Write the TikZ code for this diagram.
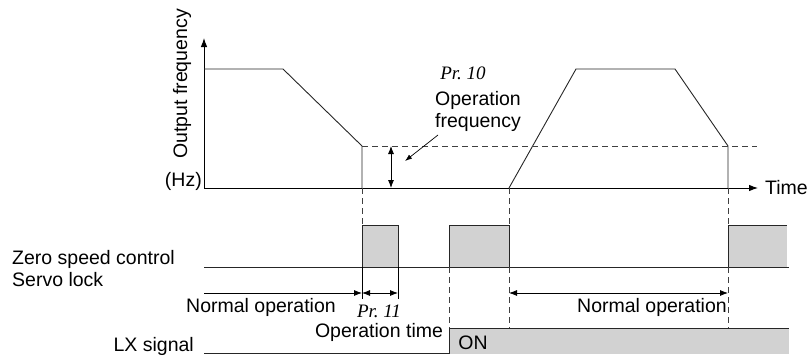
\documentclass[tikz,border=0pt]{standalone}
\usepackage{fontspec}
\setmainfont{Liberation Sans}
\newfontfamily\prfont{Liberation Serif}
\usetikzlibrary{arrows.meta}
\definecolor{pulsegray}{RGB}{210,210,210}
\tikzset{
  lbl/.style={inner sep=0pt, font=\fontsize{19.5}{22}\selectfont},
  prlbl/.style={inner sep=0pt, font=\fontsize{19}{22}\selectfont\prfont\itshape},
  wire/.style={line width=0.9pt, black!85},
  dsh/.style={line width=0.8pt, black!75, dash pattern=on 6pt off 4pt},
  axarrow/.style={line width=0.9pt, -{Latex[length=9pt,width=6.5pt]}},
  dimarrow/.style={line width=0.8pt, {Latex[length=8pt,width=6pt]}-{Latex[length=8pt,width=6pt]}},
  onearrow/.style={line width=0.8pt, -{Latex[length=8pt,width=6pt]}},
  ptr/.style={line width=0.7pt, -{Latex[length=7pt,width=5pt]}},
  pulse/.style={fill=pulsegray, draw=black!85, line width=0.9pt}
}
\begin{document}
\begin{tikzpicture}[x=1pt,y=-1pt]
\useasboundingbox (0,0) rectangle (808,356);
% key coordinates
\coordinate (org) at (204,188);
\coordinate (ytop) at (204,38);
\coordinate (xend) at (758,188);
\coordinate (f1a) at (204,69);
\coordinate (f1b) at (283,69);
\coordinate (f1c) at (362,146);
\coordinate (f1d) at (362,188);
\coordinate (f2a) at (509,188);
\coordinate (f2b) at (576,69);
\coordinate (f2c) at (675,69);
\coordinate (f2d) at (728,146);
\coordinate (f2e) at (728,188);
\coordinate (dashend) at (757,146);
% gray fills
\fill[pulsegray] (449,328) rectangle (789,354);
\fill[pulsegray] (728,225) rectangle (787,267);
% pulses
\draw[pulse] (362,267) -- (362,225) -- (398,225) -- (398,267);
\draw[pulse] (449,267) -- (449,225) -- (509,225) -- (509,267);
\draw[wire] (728,267) -- (728,225) -- (787,225);
% zero speed baseline
\coordinate (zs0) at (204,267);
\coordinate (zs1) at (789,267);
\draw[wire] (zs0) -- (zs1);
% axes
\draw[axarrow] (org) -- (ytop);
\draw[axarrow] (org) -- (xend);
% frequency curve
\draw[wire] (f1a) -- (f1b) -- (f1c) -- (f1d);
\draw[wire] (f2a) -- (f2b) -- (f2c) -- (f2d) -- (f2e);
\draw[dsh] (f1c) -- (dashend);
% dimension of operation frequency
\coordinate (dimt) at (391,146);
\coordinate (dimb) at (391,188);
\draw[dimarrow] (dimt) -- (dimb);
\coordinate (ptrs) at (438,135);
\coordinate (ptre) at (405,161);
\draw[ptr] (ptrs) -- (ptre);
% dashed verticals
\draw[dsh] (362,188) -- (362,225);
\draw[dsh] (509,188) -- (509,225);
\draw[dsh] (509,267) -- (509,328);
\draw[dsh] (728,188) -- (728,225);
\draw[dsh] (728,267) -- (728,328);
\draw[dsh] (449,267) -- (449,328);
% ticks
\draw[line width=0.8pt] (362,267) -- (362,299);
\draw[line width=0.8pt] (398,267) -- (398,299);
% normal operation arrows
\coordinate (no0) at (204,293);
\coordinate (no1) at (362,293);
\coordinate (pr11) at (398,293);
\draw[onearrow] (no0) -- (no1);
\draw[dimarrow] (no1) -- (pr11);
\coordinate (nr0) at (509,293);
\coordinate (nr1) at (728,293);
\draw[dimarrow] (nr0) -- (nr1);
% LX signal
\draw[wire] (204,353) -- (449,353) -- (449,328) -- (789,328);
% texts
\node[lbl, rotate=90] (yl) at (182,84) {Output frequency};
\node[lbl, anchor=east] (hz) at (202,181) {(Hz)};
\node[prlbl] (p10) at (463,73) {Pr.\ 10};
\node[lbl, align=center] (opf) at (478,111) {Operation\\frequency};
\node[lbl, anchor=west] (tm) at (765,188) {Time};
\node[lbl, align=left, anchor=north west] (zs) at (12,250) {Zero speed control\\Servo lock};
\node[lbl] (nol) at (261,307) {Normal operation};
\node[prlbl] (p11) at (379,311) {Pr.\ 11};
\node[lbl] (opt) at (379,332) {Operation time};
\node[lbl] (nor) at (652,307) {Normal operation};
\node[lbl, anchor=east] (lx) at (194,346) {LX signal};
\node[lbl] (on) at (473,343) {ON};
\end{tikzpicture}
\end{document}
